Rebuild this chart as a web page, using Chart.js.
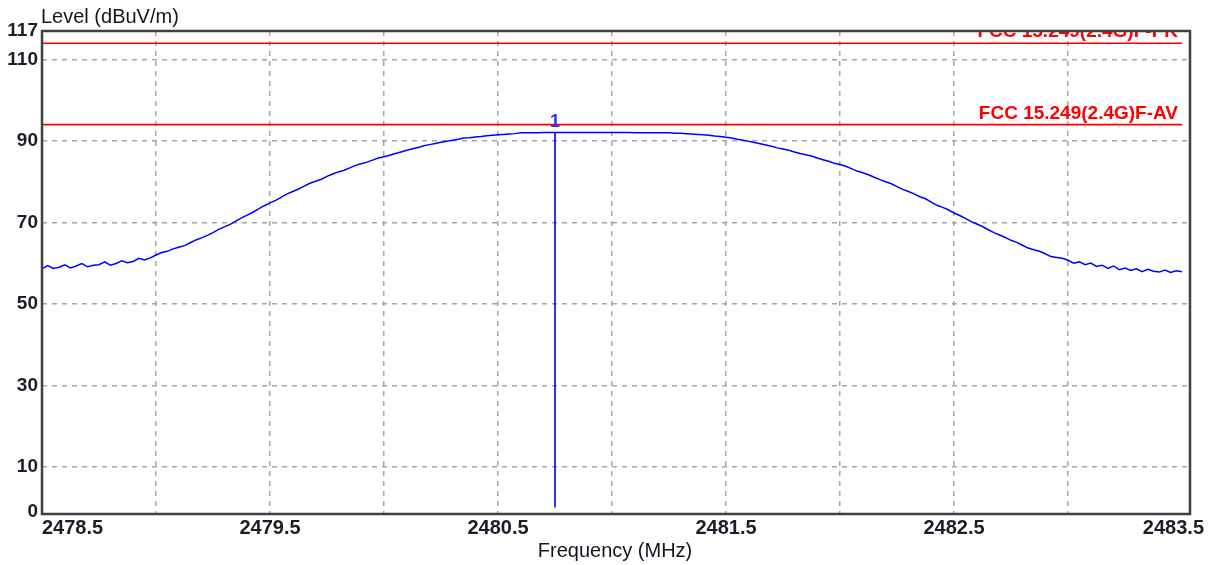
<!DOCTYPE html>
<html>
<head>
<meta charset="utf-8">
<script src="https://cdn.jsdelivr.net/npm/chart.js@4/dist/chart.umd.min.js"></script>
<style>
  html, body { margin: 0; padding: 0; background: #fff; }
  #wrap { width: 1208px; height: 565px; }
</style>
</head>
<body>
<div id="wrap"><canvas id="c" width="1208" height="565"></canvas></div>
<script>
// trace sampled every 25 kHz from 2478.5 MHz (dBuV/m)
const traceStart = 2478.5;
const traceStep = 0.025;
const traceLevel = [
  58.6, 59.4, 58.7, 59.0, 59.6, 58.8, 59.3, 59.9, 59.1, 59.5,
  59.6, 60.3, 59.5, 59.9, 60.6, 60.1, 60.4, 61.2, 60.8, 61.3,
  62.0, 62.6, 62.9, 63.5, 63.9, 64.3, 65.0, 65.7, 66.2, 66.8,
  67.5, 68.3, 68.9, 69.5, 70.3, 71.1, 71.8, 72.5, 73.3, 74.1,
  74.8, 75.4, 76.2, 77.0, 77.6, 78.2, 78.9, 79.6, 80.1, 80.6,
  81.3, 81.9, 82.4, 82.8, 83.4, 84.0, 84.4, 84.8, 85.3, 85.8,
  86.1, 86.5, 86.9, 87.3, 87.7, 88.1, 88.4, 88.8, 89.1, 89.4,
  89.7, 89.9, 90.2, 90.4, 90.7, 90.8, 91.0, 91.1, 91.3, 91.4,
  91.5, 91.6, 91.7, 91.8, 92.0, 92.0, 92.0, 92.0, 92.1, 92.1,
  92.1, 92.1, 92.1, 92.1, 92.1, 92.1, 92.1, 92.1, 92.1, 92.1,
  92.1, 92.1, 92.1, 92.1, 92.0, 92.0, 92.0, 92.0, 92.0, 92.0,
  92.0, 91.9, 91.9, 91.8, 91.7, 91.6, 91.5, 91.4, 91.2, 91.1,
  90.9, 90.7, 90.4, 90.2, 89.9, 89.6, 89.3, 89.0, 88.7, 88.3,
  88.0, 87.7, 87.3, 86.9, 86.6, 86.3, 85.8, 85.4, 85.0, 84.5,
  84.2, 83.8, 83.2, 82.6, 82.2, 81.7, 81.1, 80.5, 80.0, 79.5,
  78.8, 78.1, 77.6, 77.0, 76.3, 75.8, 75.0, 74.2, 73.7, 73.1,
  72.3, 71.7, 71.0, 70.2, 69.6, 69.0, 68.2, 67.5, 66.9, 66.3,
  65.6, 65.1, 64.4, 63.7, 63.3, 62.9, 62.3, 61.6, 61.4, 61.2,
  60.7, 60.0, 60.3, 59.6, 60.0, 59.2, 59.5, 58.7, 59.3, 58.4,
  58.8, 58.2, 58.6, 57.9, 58.5, 58.0, 57.8, 58.3, 57.7, 58.1,
  57.9
];

// limit lines
const limitNames = ['FCC 15.249(2.4G)F-PK', 'FCC 15.249(2.4G)F-AV'];
const limitLevels = [114, 94];

// marker
const markerFreq = 2480.75;
const markerLevel = 92.0;
const markerLabel = '1';

// axes
const xMin = 2478.5, xMax = 2483.535;
const yMin = -1.6, yMax = 117;
const xGrid = [2479, 2479.5, 2480, 2480.5, 2481, 2481.5, 2482, 2482.5, 2483];
const yGrid = [10, 30, 50, 70, 90, 110];
const xTickLabels = ['2478.5', '2479.5', '2480.5', '2481.5', '2482.5', '2483.5'];
const yTickLabels = ['0', '10', '30', '50', '70', '90', '110', '117'];
const yTitle = 'Level (dBuV/m)';
const xTitle = 'Frequency (MHz)';

const tracePts = traceLevel.map((v, i) => ({ x: traceStart + i * traceStep, y: v }));

const limitSets = limitLevels.map((lv, i) => ({
  label: limitNames[i],
  data: [{ x: 2478.5, y: lv }, { x: 2483.5, y: lv }],
  borderColor: '#ff0000',
  borderWidth: 1.6,
  pointRadius: 0
}));

const decorPlugin = {
  id: 'decor',
  afterDatasetsDraw(chart) {
    const { ctx, chartArea: a, scales: { x, y } } = chart;
    ctx.save();
    // limit names, clipped to plot box
    ctx.save();
    ctx.beginPath();
    ctx.rect(a.left, a.top, a.right - a.left, a.bottom - a.top);
    ctx.clip();
    ctx.fillStyle = '#ff0000';
    ctx.font = 'bold 19px "Liberation Sans", Arial, sans-serif';
    ctx.textAlign = 'right';
    ctx.textBaseline = 'alphabetic';
    limitLevels.forEach((lv, i) => {
      ctx.fillText(limitNames[i], x.getPixelForValue(2483.5) - 4, y.getPixelForValue(lv) - 6);
    });
    ctx.restore();

    // marker number
    ctx.fillStyle = '#3a2cff';
    ctx.font = 'bold 18px "Liberation Sans", Arial, sans-serif';
    ctx.textAlign = 'center';
    ctx.textBaseline = 'alphabetic';
    ctx.fillText(markerLabel, x.getPixelForValue(markerFreq), y.getPixelForValue(markerLevel) - 6);

    // frame
    ctx.strokeStyle = '#404040';
    ctx.lineWidth = 2.5;
    ctx.strokeRect(a.left, a.top, a.right - a.left, a.bottom - a.top);

    // y tick labels
    ctx.fillStyle = '#1c1c2a';
    ctx.font = 'bold 19px "Liberation Sans", Arial, sans-serif';
    ctx.textAlign = 'right';
    ctx.textBaseline = 'middle';
    yTickLabels.forEach(t => {
      const v = +t;
      const py = v === 0 ? a.bottom - 2 : y.getPixelForValue(v);
      ctx.fillText(t, a.left - 4, py);
    });

    // x tick labels
    ctx.font = 'bold 20px "Liberation Sans", Arial, sans-serif';
    ctx.textAlign = 'center';
    ctx.textBaseline = 'middle';
    xTickLabels.forEach(t => {
      const w = ctx.measureText(t).width;
      let px = x.getPixelForValue(+t);
      px = Math.max(a.left + w / 2, Math.min(chart.width - 4 - w / 2, px));
      ctx.fillText(t, px, a.bottom + 14);
    });

    // titles
    ctx.fillStyle = '#15151f';
    ctx.font = '20px "Liberation Sans", Arial, sans-serif';
    ctx.textAlign = 'left';
    ctx.textBaseline = 'middle';
    ctx.fillText(yTitle, a.left - 1, 17);
    ctx.textAlign = 'center';
    ctx.fillText(xTitle, 615, 551);
    ctx.restore();
  }
};

new Chart(document.getElementById('c').getContext('2d'), {
  type: 'line',
  data: {
    datasets: [
      ...limitSets,
      {
        label: 'marker',
        data: [{ x: markerFreq, y: markerLevel }, { x: markerFreq, y: 0 }],
        borderColor: '#0000ff',
        borderWidth: 1.6,
        pointRadius: 0
      },
      {
        label: 'trace',
        data: tracePts,
        borderColor: '#0000ff',
        borderWidth: 1.5,
        pointRadius: 0,
        tension: 0
      }
    ]
  },
  options: {
    responsive: false,
    animation: false,
    events: [],
    layout: { padding: { left: 42, top: 31, right: 18, bottom: 51 } },
    plugins: { legend: { display: false }, tooltip: { enabled: false } },
    scales: {
      x: {
        type: 'linear', min: xMin, max: xMax,
        afterBuildTicks: s => { s.ticks = xGrid.map(v => ({ value: v })); },
        afterFit: s => { s.height = 0; },
        ticks: { display: false },
        grid: { color: '#a6a6a6', lineWidth: 1.5, drawTicks: false },
        border: { display: false, dash: [5, 5] }
      },
      y: {
        type: 'linear', min: yMin, max: yMax,
        afterBuildTicks: s => { s.ticks = yGrid.map(v => ({ value: v })); },
        afterFit: s => { s.width = 0; },
        ticks: { display: false },
        grid: { color: '#a6a6a6', lineWidth: 1.5, drawTicks: false },
        border: { display: false, dash: [5, 5] }
      }
    }
  },
  plugins: [decorPlugin]
});
</script>
</body>
</html>
